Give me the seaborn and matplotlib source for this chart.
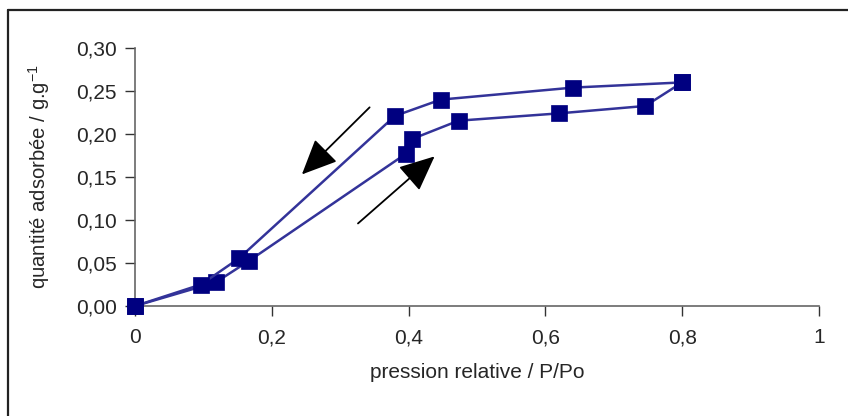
import matplotlib
matplotlib.use('Agg')
import matplotlib.pyplot as plt
import seaborn as sns
from matplotlib.lines import Line2D
from matplotlib.ticker import FuncFormatter

#%% Données

ads_p = [0.0, 0.118, 0.167, 0.396, 0.4045, 0.473, 0.620, 0.746, 0.800]
ads_q = [0.0, 0.0275, 0.0527, 0.177, 0.194, 0.2155, 0.224, 0.2326, 0.260]

des_p = [0.800, 0.641, 0.447, 0.380, 0.152, 0.0965, 0.0]
des_q = [0.260, 0.254, 0.240, 0.221, 0.0554, 0.025, 0.0]

x_ticks = [0, 0.2, 0.4, 0.6, 0.8, 1]
y_ticks = [0.0, 0.05, 0.10, 0.15, 0.20, 0.25, 0.30]

# flèches (départ, arrivée) en coordonnées des données
fleche_des = ((0.343, 0.231), (0.244, 0.153))
fleche_ads = ((0.326, 0.096), (0.438, 0.174))

#%% Figure

sns.set_style('white')
plt.rcParams['font.family'] = ['Liberation Sans', 'DejaVu Sans']

fig = plt.figure(figsize=(8.48, 4.16), dpi=100)
ax = fig.add_axes([0.1592, 0.2644, 0.8066, 0.6202])

ligne = '#333399'
marq = '#000080'
for xs, ys in [(ads_p, ads_q), (des_p, des_q)]:
    sns.lineplot(x=xs, y=ys, sort=False, ax=ax, color=ligne, lw=1.8,
                 marker='s', markersize=11, markerfacecolor=marq,
                 markeredgecolor=marq, markeredgewidth=0.5, zorder=3,
                 clip_on=False)

for (x0, y0), (x1, y1) in [fleche_des, fleche_ads]:
    ax.annotate('', xy=(x1, y1), xytext=(x0, y0),
                arrowprops=dict(arrowstyle='-|>,head_length=1.0,head_width=0.45',
                                color='black', lw=1.3, mutation_scale=22,
                                shrinkA=0, shrinkB=0))

ax.set_xlim(0, 1)
ax.set_ylim(0, 0.30)
ax.set_xticks(x_ticks)
ax.set_yticks(y_ticks)
ax.xaxis.set_major_formatter(FuncFormatter(lambda v, p: ('%g' % v).replace('.', ',')))
ax.yaxis.set_major_formatter(FuncFormatter(lambda v, p: ('%.2f' % v).replace('.', ',')))
ax.tick_params(axis='both', direction='out', length=7, width=1, color='#333333',
               labelsize=15, pad=6, left=True, bottom=True)
ax.tick_params(axis='x', pad=9)

for s in ['top', 'right']:
    ax.spines[s].set_visible(False)
for s in ['left', 'bottom']:
    ax.spines[s].set_color('#666666')
    ax.spines[s].set_linewidth(1.2)

ax.set_xlabel('pression relative / P/Po', fontsize=15, labelpad=11)
ax.set_ylabel('quantité adsorbée / g.g$^{\\mathregular{-1}}$', fontsize=14.6, labelpad=17)

# cadre du graphique (haut et gauche visibles)
fig.add_artist(Line2D([7.5 / 848, 7.5 / 848], [0, 1 - 9.5 / 416],
                      transform=fig.transFigure, color='#222222', lw=1.6))
fig.add_artist(Line2D([7.5 / 848, 1], [1 - 9.5 / 416, 1 - 9.5 / 416],
                      transform=fig.transFigure, color='#222222', lw=1.6))

fig.savefig('out.png', dpi=100)
